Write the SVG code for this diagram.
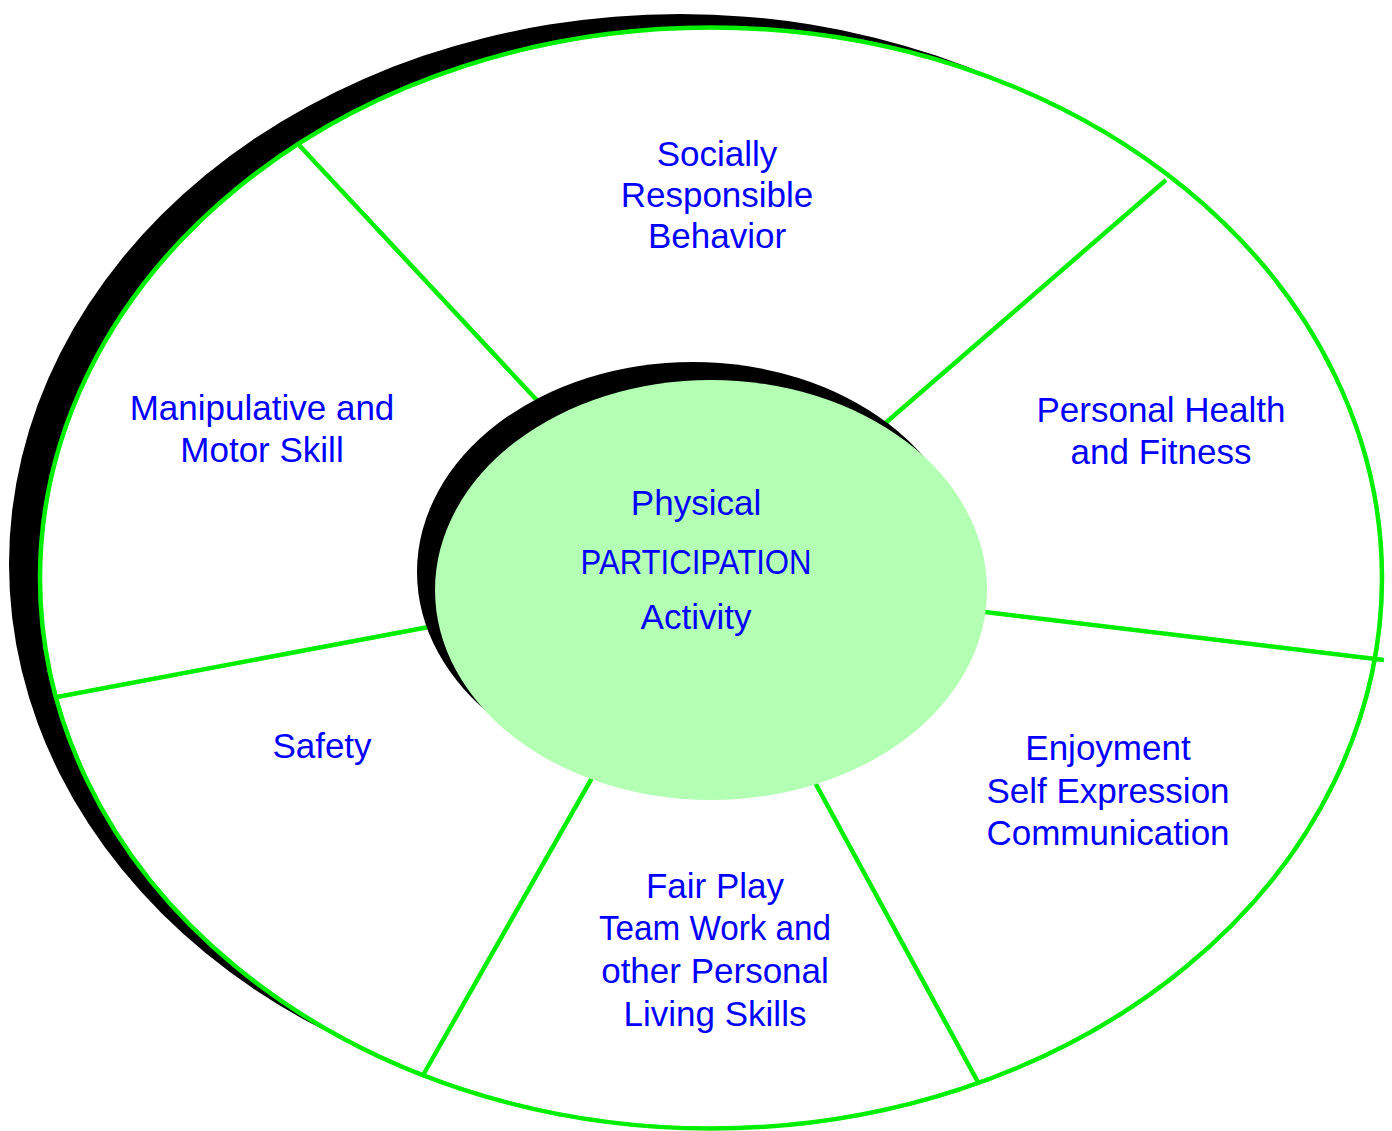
<svg xmlns="http://www.w3.org/2000/svg" width="1392" height="1131" viewBox="0 0 1392 1131">
<style>
.lbl{font-family:"Liberation Sans",Arial,sans-serif;font-size:35px;fill:#0000ff;text-anchor:middle}
.spoke{stroke:#00ee00;stroke-width:4.5;fill:none}
</style>
<rect width="1392" height="1131" fill="#ffffff"/>
<g id="outer">
<ellipse cx="680" cy="564" rx="671" ry="550" fill="#000000"/>
<ellipse cx="711" cy="578" rx="671" ry="550.5" fill="#ffffff" stroke="#00ee00" stroke-width="4.5"/>
</g>
<g id="connectors">
<line class="spoke" x1="299" y1="145" x2="560" y2="425"/>
<line class="spoke" x1="1166" y1="180" x2="860" y2="445"/>
<line class="spoke" x1="960" y1="609" x2="1384" y2="660"/>
<line class="spoke" x1="57" y1="697" x2="450" y2="623"/>
<line class="spoke" x1="605" y1="755" x2="422" y2="1077"/>
<line class="spoke" x1="800" y1="755" x2="979" y2="1084"/>
</g>
<g id="center">
<ellipse cx="693" cy="572" rx="276" ry="210" fill="#000000"/>
<ellipse cx="711" cy="590" rx="276" ry="210" fill="#b3ffb3"/>
<text class="lbl" x="696" y="515">Physical</text>
<text class="lbl" x="696" y="574" textLength="231" lengthAdjust="spacingAndGlyphs">PARTICIPATION</text>
<text class="lbl" x="696" y="629">Activity</text>
</g>
<g id="social">
<text class="lbl" x="717" y="166">Socially</text>
<text class="lbl" x="717" y="207">Responsible</text>
<text class="lbl" x="717" y="248">Behavior</text>
</g>
<g id="manipulative">
<text class="lbl" x="262" y="420">Manipulative and</text>
<text class="lbl" x="262" y="462">Motor Skill</text>
</g>
<g id="health">
<text class="lbl" x="1161" y="422">Personal Health</text>
<text class="lbl" x="1161" y="464">and Fitness</text>
</g>
<g id="safety">
<text class="lbl" x="322" y="758">Safety</text>
</g>
<g id="enjoyment">
<text class="lbl" x="1108" y="760">Enjoyment</text>
<text class="lbl" x="1108" y="803">Self Expression</text>
<text class="lbl" x="1108" y="845">Communication</text>
</g>
<g id="fairplay">
<text class="lbl" x="715" y="898">Fair Play</text>
<text class="lbl" x="715" y="940" textLength="232" lengthAdjust="spacingAndGlyphs">Team Work and</text>
<text class="lbl" x="715" y="983">other Personal</text>
<text class="lbl" x="715" y="1026">Living Skills</text>
</g>
</svg>
